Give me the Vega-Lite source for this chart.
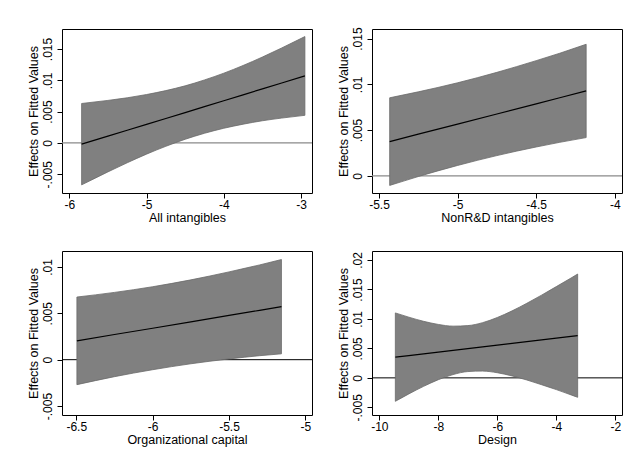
{
  "$schema": "https://vega.github.io/schema/vega-lite/v6.json",
  "background": "white",
  "padding": {"left": 26, "top": 26, "right": 5, "bottom": 5},
  "config": {
    "font": "Liberation Sans",
    "view": {"stroke": "#000000", "strokeWidth": 1},
    "axis": {
      "domain": false, "grid": false, "ticks": true, "tickColor": "#000000", "tickSize": 5, "tickCount": 12,
      "labelFont": "Liberation Sans", "labelFontSize": 12, "labelColor": "#000000",
      "labelOverlap": false, "labelFlush": false, "labelBound": false,
      "titleFont": "Liberation Sans", "titleFontSize": 12.5, "titleFontWeight": "normal", "titleColor": "#000000"
    },
    "axisY": {"labelAngle": -90, "labelAlign": "center", "labelBaseline": "bottom", "labelPadding": 3, "titlePadding": 1},
    "axisX": {"labelPadding": 1, "titlePadding": 1}
  },
  "datasets": {
    "d": [
      {"panel": "A", "x": -5.84, "fit": -0.0002, "lo": -0.0067, "hi": 0.0063},
      {"panel": "A", "x": -5.5, "fit": 0.00108, "lo": -0.00463, "hi": 0.00679},
      {"panel": "A", "x": -5.25, "fit": 0.00202, "lo": -0.00317, "hi": 0.00721},
      {"panel": "A", "x": -5.0, "fit": 0.00297, "lo": -0.00179, "hi": 0.00773},
      {"panel": "A", "x": -4.75, "fit": 0.00391, "lo": -0.00054, "hi": 0.00836},
      {"panel": "A", "x": -4.5, "fit": 0.00485, "lo": 0.00058, "hi": 0.00912},
      {"panel": "A", "x": -4.25, "fit": 0.0058, "lo": 0.00154, "hi": 0.01006},
      {"panel": "A", "x": -4.0, "fit": 0.00674, "lo": 0.00234, "hi": 0.01114},
      {"panel": "A", "x": -3.75, "fit": 0.00768, "lo": 0.00299, "hi": 0.01237},
      {"panel": "A", "x": -3.5, "fit": 0.00863, "lo": 0.00354, "hi": 0.01372},
      {"panel": "A", "x": -3.25, "fit": 0.00957, "lo": 0.00397, "hi": 0.01517},
      {"panel": "A", "x": -2.95, "fit": 0.0107, "lo": 0.00441, "hi": 0.01699},
      {"panel": "B", "x": -5.432, "fit": 0.00374, "lo": -0.00105, "hi": 0.00853},
      {"panel": "B", "x": -5.25, "fit": 0.00455, "lo": -0.00008, "hi": 0.00918},
      {"panel": "B", "x": -5.0, "fit": 0.00565, "lo": 0.00113, "hi": 0.01017},
      {"panel": "B", "x": -4.75, "fit": 0.00676, "lo": 0.00221, "hi": 0.01131},
      {"panel": "B", "x": -4.5, "fit": 0.00787, "lo": 0.00315, "hi": 0.01259},
      {"panel": "B", "x": -4.35, "fit": 0.00853, "lo": 0.00366, "hi": 0.0134},
      {"panel": "B", "x": -4.182, "fit": 0.00928, "lo": 0.00418, "hi": 0.01438},
      {"panel": "C", "x": -6.496, "fit": 0.00203, "lo": -0.00269, "hi": 0.00675},
      {"panel": "C", "x": -6.25, "fit": 0.00271, "lo": -0.00183, "hi": 0.00725},
      {"panel": "C", "x": -6.0, "fit": 0.00339, "lo": -0.00108, "hi": 0.00786},
      {"panel": "C", "x": -5.75, "fit": 0.00408, "lo": -0.00044, "hi": 0.0086},
      {"panel": "C", "x": -5.5, "fit": 0.00477, "lo": 0.00008, "hi": 0.00946},
      {"panel": "C", "x": -5.3, "fit": 0.00532, "lo": 0.00043, "hi": 0.01021},
      {"panel": "C", "x": -5.157, "fit": 0.00571, "lo": 0.00063, "hi": 0.01079},
      {"panel": "D", "x": -9.458, "fit": 0.00352, "lo": -0.00398, "hi": 0.01102},
      {"panel": "D", "x": -9.0, "fit": 0.00379, "lo": -0.00272, "hi": 0.0103},
      {"panel": "D", "x": -8.5, "fit": 0.00408, "lo": -0.00144, "hi": 0.0096},
      {"panel": "D", "x": -8.0, "fit": 0.00438, "lo": -0.00031, "hi": 0.00907},
      {"panel": "D", "x": -7.5, "fit": 0.00467, "lo": 0.00056, "hi": 0.00878},
      {"panel": "D", "x": -7.0, "fit": 0.00497, "lo": 0.00107, "hi": 0.00887},
      {"panel": "D", "x": -6.5, "fit": 0.00526, "lo": 0.00115, "hi": 0.00937},
      {"panel": "D", "x": -6.0, "fit": 0.00556, "lo": 0.00087, "hi": 0.01025},
      {"panel": "D", "x": -5.5, "fit": 0.00585, "lo": 0.00033, "hi": 0.01137},
      {"panel": "D", "x": -5.0, "fit": 0.00615, "lo": -0.00036, "hi": 0.01266},
      {"panel": "D", "x": -4.5, "fit": 0.00644, "lo": -0.00116, "hi": 0.01404},
      {"panel": "D", "x": -4.0, "fit": 0.00675, "lo": -0.00199, "hi": 0.01549},
      {"panel": "D", "x": -3.5, "fit": 0.00703, "lo": -0.00289, "hi": 0.01695},
      {"panel": "D", "x": -3.277, "fit": 0.00716, "lo": -0.0033, "hi": 0.01762}
    ],
    "zero": [{"z": 0}]
  },
  "columns": 2,
  "spacing": {"column": 60, "row": 58},
  "bounds": "flush",
  "concat": [
    {
      "width": 250, "height": 164,
      "layer": [
        {"data": {"name": "zero"},
         "mark": {"type": "rule", "color": "#8a8a8a", "strokeWidth": 1.2},
         "encoding": {"y": {"field": "z", "type": "quantitative", "scale": {"domain": [-0.008, 0.0182], "nice": false, "zero": false},
                            "axis": {"title": "Effects on Fitted Values", "values": [-0.005, 0, 0.005, 0.01, 0.015], "tickCount": 12, "labelExpr": "datum.value == 0 ? '0' : replace(toString(datum.value), '0.', '.')"}}}},
        {"data": {"name": "d"},
         "transform": [{"filter": "datum.panel === 'A'"}],
         "mark": {"type": "area", "color": "#808080", "stroke": "#6a6a6a", "strokeWidth": 0.8, "opacity": 1, "interpolate": "monotone"},
         "encoding": {
           "x": {"field": "x", "type": "quantitative", "scale": {"domain": [-6.094, -2.858], "nice": false, "zero": false},
                 "axis": {"title": "All intangibles", "values": [-6, -5, -4, -3], "tickCount": 12, "labelExpr": "toString(datum.value)"}},
           "y": {"field": "lo", "type": "quantitative", "title": "Effects on Fitted Values"},
           "y2": {"field": "hi"}}},
        {"data": {"name": "d"},
         "transform": [{"filter": "datum.panel === 'A'"}],
         "mark": {"type": "line", "color": "#000000", "strokeWidth": 1.2},
         "encoding": {
           "x": {"field": "x", "type": "quantitative", "title": "All intangibles"},
           "y": {"field": "fit", "type": "quantitative", "title": "Effects on Fitted Values"}}}
      ]
    },
    {
      "width": 250, "height": 164,
      "layer": [
        {"data": {"name": "zero"},
         "mark": {"type": "rule", "color": "#8a8a8a", "strokeWidth": 1.2},
         "encoding": {"y": {"field": "z", "type": "quantitative", "scale": {"domain": [-0.00188, 0.01605], "nice": false, "zero": false},
                            "axis": {"title": "Effects on Fitted Values", "values": [0, 0.005, 0.01, 0.015], "tickCount": 12, "labelExpr": "datum.value == 0 ? '0' : replace(toString(datum.value), '0.', '.')"}}}},
        {"data": {"name": "d"},
         "transform": [{"filter": "datum.panel === 'B'"}],
         "mark": {"type": "area", "color": "#808080", "stroke": "#6a6a6a", "strokeWidth": 0.8, "opacity": 1, "interpolate": "monotone"},
         "encoding": {
           "x": {"field": "x", "type": "quantitative", "scale": {"domain": [-5.5445, -3.954], "nice": false, "zero": false},
                 "axis": {"title": "NonR&D intangibles", "values": [-5.5, -5, -4.5, -4], "tickCount": 12, "labelExpr": "toString(datum.value)"}},
           "y": {"field": "lo", "type": "quantitative", "title": "Effects on Fitted Values"},
           "y2": {"field": "hi"}}},
        {"data": {"name": "d"},
         "transform": [{"filter": "datum.panel === 'B'"}],
         "mark": {"type": "line", "color": "#000000", "strokeWidth": 1.2},
         "encoding": {
           "x": {"field": "x", "type": "quantitative", "title": "NonR&D intangibles"},
           "y": {"field": "fit", "type": "quantitative", "title": "Effects on Fitted Values"}}}
      ]
    },
    {
      "width": 250, "height": 164,
      "layer": [
        {"data": {"name": "zero"},
         "mark": {"type": "rule", "color": "#000000", "strokeWidth": 1},
         "encoding": {"y": {"field": "z", "type": "quantitative", "scale": {"domain": [-0.00596, 0.01171], "nice": false, "zero": false},
                            "axis": {"title": "Effects on Fitted Values", "values": [-0.005, 0, 0.005, 0.01], "tickCount": 12, "labelExpr": "datum.value == 0 ? '0' : replace(toString(datum.value), '0.', '.')"}}}},
        {"data": {"name": "d"},
         "transform": [{"filter": "datum.panel === 'C'"}],
         "mark": {"type": "area", "color": "#808080", "stroke": "#6a6a6a", "strokeWidth": 0.8, "opacity": 1, "interpolate": "monotone"},
         "encoding": {
           "x": {"field": "x", "type": "quantitative", "scale": {"domain": [-6.5935, -4.957], "nice": false, "zero": false},
                 "axis": {"title": "Organizational capital", "values": [-6.5, -6, -5.5, -5], "tickCount": 12, "labelExpr": "toString(datum.value)"}},
           "y": {"field": "lo", "type": "quantitative", "title": "Effects on Fitted Values"},
           "y2": {"field": "hi"}}},
        {"data": {"name": "d"},
         "transform": [{"filter": "datum.panel === 'C'"}],
         "mark": {"type": "line", "color": "#000000", "strokeWidth": 1.2},
         "encoding": {
           "x": {"field": "x", "type": "quantitative", "title": "Organizational capital"},
           "y": {"field": "fit", "type": "quantitative", "title": "Effects on Fitted Values"}}}
      ]
    },
    {
      "width": 250, "height": 164,
      "layer": [
        {"data": {"name": "zero"},
         "mark": {"type": "rule", "color": "#000000", "strokeWidth": 1},
         "encoding": {"y": {"field": "z", "type": "quantitative", "scale": {"domain": [-0.0063, 0.02153], "nice": false, "zero": false},
                            "axis": {"title": "Effects on Fitted Values", "values": [-0.005, 0, 0.005, 0.01, 0.015, 0.02], "tickCount": 12, "labelExpr": "datum.value == 0 ? '0' : replace(toString(datum.value), '0.', '.')"}}}},
        {"data": {"name": "d"},
         "transform": [{"filter": "datum.panel === 'D'"}],
         "mark": {"type": "area", "color": "#808080", "stroke": "#6a6a6a", "strokeWidth": 0.8, "opacity": 1, "interpolate": "monotone"},
         "encoding": {
           "x": {"field": "x", "type": "quantitative", "scale": {"domain": [-10.249, -1.774], "nice": false, "zero": false},
                 "axis": {"title": "Design", "values": [-10, -8, -6, -4, -2], "tickCount": 12, "labelExpr": "toString(datum.value)"}},
           "y": {"field": "lo", "type": "quantitative", "title": "Effects on Fitted Values"},
           "y2": {"field": "hi"}}},
        {"data": {"name": "d"},
         "transform": [{"filter": "datum.panel === 'D'"}],
         "mark": {"type": "line", "color": "#000000", "strokeWidth": 1.2},
         "encoding": {
           "x": {"field": "x", "type": "quantitative", "title": "Design"},
           "y": {"field": "fit", "type": "quantitative", "title": "Effects on Fitted Values"}}}
      ]
    }
  ]
}
